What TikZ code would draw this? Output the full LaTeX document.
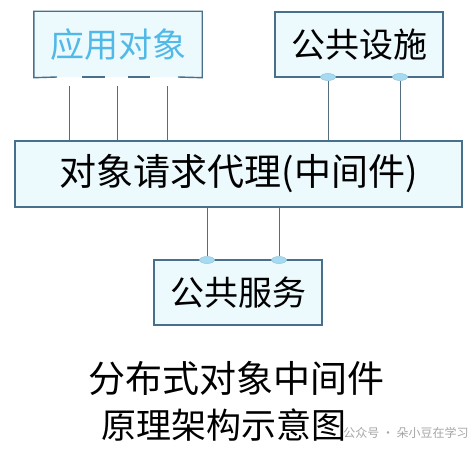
\documentclass[tikz,border=0pt]{standalone}
\usepackage{fontspec}
\newfontfamily\cjk{Noto Sans CJK SC}
\usetikzlibrary{shapes.geometric, positioning}
\definecolor{boxline}{RGB}{72,112,140}
\definecolor{boxfill}{RGB}{236,249,253}
\definecolor{wireline}{RGB}{85,110,125}
\definecolor{apptext}{RGB}{80,185,232}
\definecolor{portfill}{RGB}{165,218,240}
\definecolor{markgray}{RGB}{165,165,165}
\tikzset{
  unit/.style={
    rectangle, draw=boxline, line width=1.4pt, fill=boxfill, inner sep=0pt,
    minimum width=167pt, minimum height=65pt, text centered,
    font=\cjk\fontsize{34}{38}\selectfont, text=black
  },
  edge/.style={draw=boxline, line width=1.4pt},
  wire/.style={draw=wireline, line width=0.9pt},
  port/.style={
    ellipse, draw=portfill!80!boxline, fill=portfill, line width=0.5pt,
    minimum width=15pt, minimum height=7pt, inner sep=0pt
  },
  caption/.style={font=\cjk\fontsize{37}{42}\selectfont, text=black}
}

\begin{document}
\begin{tikzpicture}[x=1pt, y=-1pt]
  \useasboundingbox (0,0) rectangle (476,452);

  % boxes
  \node[unit, draw=none, text=apptext] (app) at (118,44.5) {应用对象};
  \node[unit, minimum width=168pt] (fac) at (359,44.5) {公共设施};
  \node[unit, minimum width=447pt, minimum height=66pt, font=\cjk\fontsize{37}{40}\selectfont]
    (broker) at (238.5,174) {对象请求代理(中间件)\hspace{21pt}};
  \node[unit, minimum width=168pt] (svc) at (238,292.5) {公共服务};

  % ports
  \coordinate (a1) at (69,77);
  \coordinate (a2) at (117,77);
  \coordinate (a3) at (167,77);
  \node[port] (f1) at (328,77) {};
  \node[port] (f2) at (400,77) {};
  \node[port] (s1) at (207,260) {};
  \node[port] (s2) at (279,260) {};

  % open bottom edge of the application box
  \draw[edge] ([xshift=11pt]a3) -- (app.south east) -- (app.north east)
    -- (app.north west) -- (app.south west) -- ([xshift=-12pt]a1);
  \draw[edge] ([xshift=13pt]a1) -- ([xshift=-12pt]a2);
  \draw[edge] ([xshift=11pt]a2) -- ([xshift=-17pt]a3);

  % wires
  \foreach \p in {a1,a2,a3}
    \draw[wire] ([yshift=-9pt]\p) -- (\p |- broker.north);
  \foreach \p in {f1,f2}
    \draw[wire] (\p.south) -- (\p |- broker.north);
  \foreach \p in {s1,s2}
    \draw[wire] (\p |- broker.south) -- (\p.north);

  % caption
  \node[caption] (cap1) at (236,378) {分布式对象中间件};
  \node[caption, font=\cjk\fontsize{35}{40}\selectfont] (cap2) at (224,425) {原理架构示意图};
  \node[font=\cjk\fontsize{12}{15}\selectfont, text=markgray] (mark) at (406,433) {公众号 · 朵小豆在学习};
\end{tikzpicture}
\end{document}
